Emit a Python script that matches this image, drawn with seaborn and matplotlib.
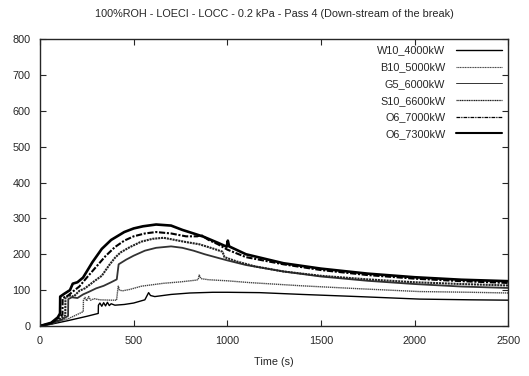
import matplotlib
matplotlib.use("Agg")
import matplotlib.pyplot as plt
import pandas as pd
import seaborn as sb

sb.set_style("ticks")
plt.rcParams["font.family"] = ["Liberation Sans", "DejaVu Sans"]

# Time (s) / temperature readings per fire case
t_w10 = [0, 60, 150, 250, 311, 312, 320, 330, 340, 350, 360, 370, 380, 400, 450, 500, 540, 560, 575, 580, 590, 613, 700, 800, 923, 1000, 1173, 1400, 1700, 2027, 2300, 2500]
v_w10 = [0, 5, 15, 27, 35, 58, 64, 55, 65, 56, 66, 57, 62, 58, 60, 64, 70, 73, 88, 93, 85, 82, 88, 92, 94, 94, 93, 88, 82, 75, 73, 72]

t_b10 = [0, 60, 150, 231, 232, 240, 250, 260, 270, 290, 320, 380, 409, 415, 418, 425, 440, 480, 542, 600, 658, 750, 836, 845, 850, 860, 900, 1000, 1120, 1400, 1700, 2027, 2300, 2500]
v_b10 = [0, 7, 20, 40, 72, 80, 70, 82, 72, 76, 73, 72, 72, 100, 111, 100, 98, 102, 111, 115, 119, 123, 128, 130, 142, 132, 129, 126, 121, 112, 104, 96, 94, 92]

t_g5 = [0, 60, 110, 150, 151, 170, 200, 230, 260, 300, 340, 380, 410, 420, 460, 500, 560, 620, 700, 760, 820, 880, 950, 1000, 1100, 1300, 1500, 1750, 2000, 2250, 2500]
v_g5 = [0, 6, 16, 28, 75, 80, 78, 88, 95, 105, 112, 122, 130, 172, 185, 196, 210, 218, 222, 218, 210, 200, 190, 183, 170, 152, 138, 126, 117, 110, 106]

t_s10 = [0, 60, 110, 135, 136, 160, 180, 210, 240, 290, 330, 370, 400, 430, 480, 540, 600, 660, 720, 780, 850, 930, 975, 985, 1050, 1150, 1300, 1500, 1750, 2000, 2250, 2500]
v_s10 = [0, 7, 20, 30, 80, 85, 82, 98, 105, 125, 140, 170, 190, 205, 220, 235, 243, 246, 240, 234, 228, 215, 207, 192, 180, 166, 152, 140, 130, 122, 117, 113]

t_o7000 = [0, 60, 100, 120, 121, 150, 180, 210, 250, 300, 350, 400, 450, 500, 560, 620, 700, 780, 840, 860, 900, 950, 1000, 1100, 1300, 1500, 1750, 2000, 2250, 2500]
v_o7000 = [0, 8, 22, 32, 78, 85, 98, 110, 135, 165, 195, 220, 238, 250, 258, 262, 258, 250, 250, 254, 240, 228, 213, 192, 172, 156, 142, 132, 125, 120]

t_o7300 = [0, 60, 95, 107, 108, 130, 160, 175, 200, 230, 280, 330, 380, 450, 500, 550, 620, 700, 760, 820, 873, 950, 997, 1003, 1010, 1100, 1300, 1500, 1750, 2000, 2250, 2500]
v_o7300 = [0, 9, 24, 35, 82, 90, 100, 118, 122, 135, 178, 215, 240, 262, 272, 278, 283, 280, 268, 258, 249, 232, 221, 238, 222, 200, 175, 160, 146, 136, 129, 125]

series = [
    ("W10_4000kW", t_w10, v_w10, dict(color="black", lw=1.0, ls="-")),
    ("B10_5000kW", t_b10, v_b10, dict(color="#444444", lw=1.0, ls=(0, (1, 0.5)))),
    ("G5_6000kW", t_g5, v_g5, dict(color="#333333", lw=1.3, ls="-")),
    ("S10_6600kW", t_s10, v_s10, dict(color="#222222", lw=1.5, ls=(0, (1, 0.4)))),
    ("O6_7000kW", t_o7000, v_o7000, dict(color="black", lw=1.5, ls=(0, (3, 0.8, 1, 0.8)))),
    ("O6_7300kW", t_o7300, v_o7300, dict(color="black", lw=1.9, ls="-")),
]
legend_widths = [1.0, 0.8, 0.7, 0.9, 0.9, 1.5]

fig = plt.figure(figsize=(5.29, 3.76), dpi=100)
ax = fig.add_axes([0.0756, 0.133, 0.885, 0.763])

for name, t, v, st in series:
    df = pd.DataFrame({"time": t, "temp": v})
    sb.lineplot(data=df, x="time", y="temp", ax=ax, label=name, **st)

ax.set_xlim(0, 2500)
ax.set_ylim(0, 800)
ax.set_xticks([0, 500, 1000, 1500, 2000, 2500])
ax.set_yticks(range(0, 801, 100))
ax.tick_params(direction="in", top=True, right=True, labelsize=7.8, length=4, width=0.8, pad=7)
for s in ax.spines.values():
    s.set_linewidth(1.0)
ax.set_xlabel("Time (s)", fontsize=7.8, labelpad=8)
ax.set_ylabel("")
ax.set_title("100%ROH - LOECI - LOCC - 0.2 kPa - Pass 4 (Down-stream of the break)", fontsize=7.8, pad=16)

leg = ax.legend(loc="upper right", frameon=False, fontsize=7.8, markerfirst=False,
                handlelength=4.2, labelspacing=0.62, borderaxespad=0.2, handletextpad=1.0)
for line, w in zip(leg.get_lines(), legend_widths):
    line.set_linewidth(w)

fig.savefig("out.png", dpi=100)
